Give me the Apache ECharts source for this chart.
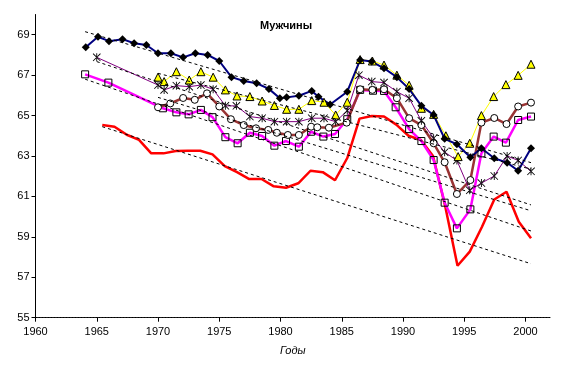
<!DOCTYPE html>
<html><head><meta charset="utf-8">
<script src="https://cdn.jsdelivr.net/npm/echarts@6/dist/echarts.min.js"></script>
<style>html,body{margin:0;padding:0;background:#fff}#c{width:588px;height:366px}</style>
</head><body><div id="c"></div>
<script>
// ---- data (year, value) ----
const blueX = [1964.1,1965.1,1966.0,1967.1,1968.05,1969.05,1970.0,1971.05,1972.05,1973.05,1974.05,1975.0,1976.0,1977.0,1978.05,1979.05,1979.95,1980.5,1981.5,1982.55,1983.1,1984.05,1985.45,1986.5,1987.45,1988.45,1989.5,1990.5,1991.5,1992.5,1993.4,1994.4,1995.5,1996.4,1997.45,1998.5,1999.4,2000.45];
const blueY = [68.38,68.90,68.68,68.78,68.58,68.49,68.08,68.08,67.88,68.08,68.0,67.70,66.9,66.71,66.6,66.32,65.86,65.9,65.98,66.22,65.93,65.55,66.18,67.75,67.67,67.34,66.9,66.32,65.48,65.03,63.85,63.58,62.94,63.38,62.89,62.67,62.27,63.38];

const yellowX = [1970.0,1970.5,1971.5,1972.55,1973.5,1974.5,1975.5,1976.45,1977.5,1978.5,1979.5,1980.5,1981.5,1982.55,1983.55,1984.5,1985.45,1986.5,1987.5,1988.45,1989.5,1990.5,1991.5,1992.5,1993.5,1994.5,1995.45,1996.4,1997.4,1998.4,1999.4,2000.45];
const yellowY = [66.9,66.68,67.17,66.76,67.17,66.9,66.27,65.97,65.94,65.72,65.5,65.31,65.31,65.74,65.66,65.03,65.66,67.77,67.7,67.5,67.0,66.5,65.36,65.06,64.0,62.97,63.63,65.0,65.94,66.53,66.99,67.54];

const starX = [1965.0,1970.0,1970.5,1971.5,1972.55,1973.5,1974.5,1975.5,1976.4,1977.5,1978.5,1979.5,1980.5,1981.5,1982.55,1983.55,1984.5,1985.45,1986.4,1987.45,1988.45,1989.5,1990.5,1991.5,1992.5,1993.4,1994.4,1995.45,1996.4,1997.45,1998.5,1999.4,2000.45];
const starY = [67.88,66.51,66.27,66.48,66.43,66.51,66.3,65.48,65.48,64.95,64.87,64.7,64.7,64.7,64.87,64.87,64.7,65.24,67.0,66.68,66.63,66.18,65.86,64.74,63.88,63.19,62.78,61.3,61.66,62.01,63.0,62.78,62.24];

const brownX = [1970.0,1971.0,1972.05,1973.0,1974.0,1975.0,1975.95,1977.0,1978.0,1979.0,1979.7,1980.6,1981.5,1982.5,1983.0,1983.95,1985.4,1986.5,1987.5,1988.45,1989.5,1990.5,1991.5,1992.5,1993.4,1994.4,1995.5,1996.4,1997.45,1998.45,1999.4,2000.45];
const brownY = [65.41,65.6,65.87,65.78,66.1,65.45,64.82,64.53,64.37,64.29,64.15,64.04,64.04,64.45,64.42,64.4,64.65,66.3,66.27,66.3,65.86,64.87,64.53,63.63,62.69,61.12,61.81,64.65,64.88,64.58,65.45,65.64];

const magentaX = [1964.05,1965.95,1970.4,1971.5,1972.5,1973.5,1974.45,1975.5,1976.5,1977.5,1978.5,1979.5,1980.45,1981.5,1982.5,1983.5,1984.45,1985.45,1986.5,1987.55,1988.45,1989.4,1990.5,1991.5,1992.5,1993.4,1994.4,1995.5,1996.4,1997.4,1998.4,1999.4,2000.45];
const magentaY = [67.04,66.63,65.36,65.16,65.06,65.28,64.92,63.93,63.63,64.15,63.99,63.51,63.74,63.46,64.2,63.96,64.09,64.82,66.27,66.23,66.22,65.41,64.33,63.74,62.8,60.69,59.42,60.36,63.13,63.96,63.66,64.78,64.95];

const redX = [1965.45,1966.45,1967.45,1968.45,1969.45,1970.45,1971.45,1972.45,1973.45,1974.45,1975.45,1976.45,1977.45,1978.45,1979.45,1980.45,1981.45,1982.45,1983.45,1984.45,1985.45,1986.45,1987.45,1988.45,1989.45,1990.45,1991.45,1992.45,1993.45,1994.45,1995.45,1996.45,1997.45,1998.45,1999.45,2000.45];
const redY = [64.53,64.45,64.05,63.8,63.13,63.13,63.25,63.26,63.26,63.08,62.5,62.2,61.86,61.86,61.5,61.43,61.65,62.27,62.2,61.8,62.9,64.85,64.98,64.95,64.55,64.0,63.8,63.0,60.5,57.57,58.27,59.5,60.85,61.23,59.75,58.93];

// dashed trend lines: [start year, end year], [start value, end value]
const blueTrendX = [1964.05, 2000.45],   blueTrendY = [69.15, 62.67];
const yellowTrendX = [1970.0, 2000.45],  yellowTrendY = [67.09, 62.35];
const starTrendX = [1965.0, 2000.45],    starTrendY = [67.67, 60.58];
const brownTrendX = [1970.0, 2000.45],   brownTrendY = [65.9, 60.29];
const magentaTrendX = [1964.05, 2000.45],magentaTrendY = [66.8, 59.29];
const redTrendX = [1965.45, 2000.45],    redTrendY = [64.45, 57.67];

const xTicks = [1960,1965,1970,1975,1980,1985,1990,1995,2000];
const yTicks = [55,57,59,61,63,65,67,69];
const titleText = 'Мужчины';
const xName = 'Годы';

// ---- helpers ----
const zip = (xs, ys) => xs.map((x, i) => [x, ys[i]]);
const starPath = 'path://M4.45,0H5.55V10H4.45Z M0,0.75L0.75,0L10,9.25L9.25,10Z M10,0.75L9.25,0L0,9.25L0.75,10Z';
const FONT = 'Liberation Sans, Arial, sans-serif';

function lineSeries(name, xs, ys, color, width, symbol, size, fill, z) {
  return {
    name, type: 'line', data: zip(xs, ys), z,
    symbol: symbol || 'none', symbolSize: size || 0, showSymbol: !!symbol,
    lineStyle: { color, width, type: 'solid' },
    itemStyle: { color: fill, borderColor: '#000', borderWidth: (symbol === starPath || symbol === 'diamond') ? 0 : 1 },
    emphasis: { disabled: true }, silent: true, animation: false, clip: false
  };
}
function trendSeries(xs, ys) {
  return {
    type: 'line', data: zip(xs, ys), symbol: 'none', z: 4,
    lineStyle: { color: '#000', width: 1, type: [3, 3] },
    emphasis: { disabled: true }, silent: true, animation: false
  };
}

const series = [
  lineSeries('red', redX, redY, '#ff0000', 2.5, null, 0, '#ff0000', 2),
  lineSeries('magenta', magentaX, magentaY, '#ff00ff', 2.5, 'rect', 7, 'transparent', 2),
  lineSeries('brown', brownX, brownY, '#993333', 2.5, 'circle', 7, '#ffffff', 2),
  lineSeries('star', starX, starY, '#800080', 1, starPath, 8, '#000000', 2),
  lineSeries('yellow', yellowX, yellowY, '#ffff00', 1, 'triangle', 8, '#ffff00', 2),
  lineSeries('blue', blueX, blueY, '#000080', 2, 'diamond', 8, '#000000', 2),
  trendSeries(blueTrendX, blueTrendY),
  trendSeries(yellowTrendX, yellowTrendY),
  trendSeries(starTrendX, starTrendY),
  trendSeries(brownTrendX, brownTrendY),
  trendSeries(magentaTrendX, magentaTrendY),
  trendSeries(redTrendX, redTrendY)
];

const chart = echarts.init(document.getElementById('c'), null, { renderer: 'canvas' });
chart.setOption({
  animation: false,
  backgroundColor: '#ffffff',
  textStyle: { fontFamily: FONT },
  title: {
    text: titleText, left: 260, top: 20, padding: 0,
    textStyle: { fontSize: 11, fontWeight: 'bold', color: '#000', fontFamily: FONT }
  },
  grid: { left: 35.5, right: 38, top: 14.5, bottom: 48.3 },
  xAxis: {
    type: 'value', min: 1960, max: 2002, interval: 5,
    name: xName, nameLocation: 'middle', nameGap: 28,
    nameTextStyle: { fontSize: 11, fontStyle: 'italic', color: '#000', fontFamily: FONT },
    axisLine: { show: true, onZero: false, lineStyle: { color: '#000', width: 1, type: [2, 1] } },
    axisTick: { show: true, inside: false, length: 4, lineStyle: { color: '#000' }, customValues: xTicks },
    axisLabel: { fontSize: 11, color: '#000', margin: 9, customValues: xTicks, formatter: v => String(v) },
    splitLine: { show: false }
  },
  yAxis: {
    type: 'value', min: 55, max: 70, interval: 2,
    axisLine: { show: true, onZero: false, lineStyle: { color: '#000', width: 1 } },
    axisTick: { show: true, inside: false, length: 4, lineStyle: { color: '#000' }, customValues: yTicks },
    axisLabel: { fontSize: 11, color: '#000', margin: 6, customValues: yTicks, formatter: v => String(v) },
    splitLine: { show: false }
  },
  series
});
</script></body></html>
